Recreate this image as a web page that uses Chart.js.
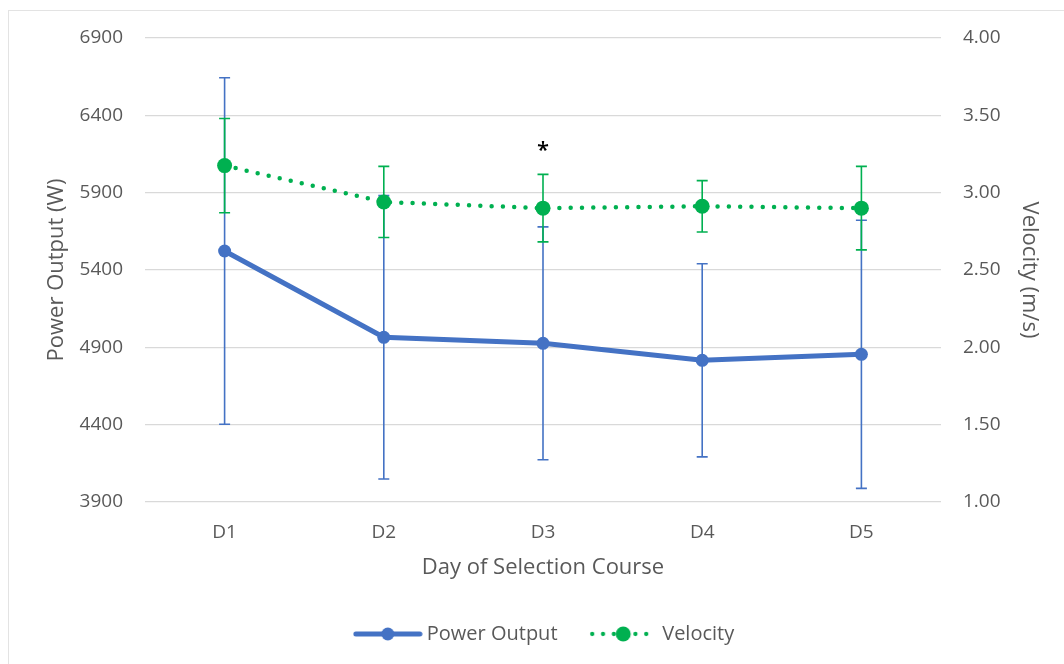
<!DOCTYPE html>
<html><head><meta charset="utf-8">
<script src="https://cdn.jsdelivr.net/npm/chart.js@4.4.0/dist/chart.umd.min.js"></script>
<style>html,body{margin:0;padding:0;background:#fff;} canvas{display:block;}</style>
</head><body>
<canvas id="c" width="1064" height="664" style="width:1064px;height:664px"></canvas>
<script>
// ---- data ----
const days = ['D1', 'D2', 'D3', 'D4', 'D5'];
const powerMean = [5523, 4965, 4926, 4816, 4855];
const powerSD = [1120, 916, 753, 624, 867];
const velocityMean = [3.175, 2.94, 2.90, 2.912, 2.90];
const velocitySD = [0.305, 0.23, 0.218, 0.166, 0.27];
const powerTicks = [3900, 4400, 4900, 5400, 5900, 6400, 6900];
const velocityTicks = [1.00, 1.50, 2.00, 2.50, 3.00, 3.50, 4.00];
const sigDays = ['D3'];
const sigValues = [3.30];
const sigText = ['*'];

const BLUE = '#4472C4';
const GREEN = '#00B050';
const TXT = '#595959';
const FONT = "'Open Sans', sans-serif";

Chart.defaults.font.family = FONT;
Chart.defaults.color = TXT;

function powerSwatch() {
  const c = document.createElement('canvas');
  c.width = 70; c.height = 18;
  const x = c.getContext('2d');
  x.strokeStyle = BLUE; x.lineWidth = 5; x.lineCap = 'round';
  x.beginPath(); x.moveTo(3, 9); x.lineTo(67, 9); x.stroke();
  x.fillStyle = BLUE; x.beginPath(); x.arc(35, 9, 6.5, 0, Math.PI * 2); x.fill();
  return c;
}
function velocitySwatch() {
  const c = document.createElement('canvas');
  c.width = 70; c.height = 18;
  const x = c.getContext('2d');
  x.strokeStyle = GREEN; x.lineWidth = 4.3; x.lineCap = 'round';
  x.setLineDash([0, 10.8]);
  x.beginPath(); x.moveTo(4, 9); x.lineTo(64, 9); x.stroke();
  x.fillStyle = GREEN; x.beginPath(); x.arc(35, 9, 7.5, 0, Math.PI * 2); x.fill();
  return c;
}

const frame = {
  id: 'frame',
  beforeDraw(chart) {
    const ctx = chart.ctx;
    ctx.save();
    ctx.fillStyle = '#fff';
    ctx.fillRect(0, 0, chart.width, chart.height);
    ctx.strokeStyle = '#e3e3e3';
    ctx.lineWidth = 1;
    ctx.strokeRect(8.5, 10.5, 3000, 3000);
    ctx.restore();
  }
};

const errorBars = {
  id: 'errorBars',
  beforeDatasetsDraw(chart) {
    const ctx = chart.ctx;
    const xs = chart.scales.x;
    const sets = [
      {mean: powerMean, sd: powerSD, scale: chart.scales.yP, color: BLUE},
      {mean: velocityMean, sd: velocitySD, scale: chart.scales.yV, color: GREEN}
    ];
    ctx.save();
    ctx.lineWidth = 1.6;
    sets.forEach(s => {
      ctx.strokeStyle = s.color;
      s.mean.forEach((m, i) => {
        const px = xs.getPixelForValue(i);
        const top = s.scale.getPixelForValue(m + s.sd[i]);
        const bot = s.scale.getPixelForValue(m - s.sd[i]);
        ctx.beginPath();
        ctx.moveTo(px, top); ctx.lineTo(px, bot);
        ctx.moveTo(px - 5.5, top); ctx.lineTo(px + 5.5, top);
        ctx.moveTo(px - 5.5, bot); ctx.lineTo(px + 5.5, bot);
        ctx.stroke();
      });
    });
    ctx.restore();
  },
  afterDatasetsDraw(chart) {
    const ctx = chart.ctx;
    const xs = chart.scales.x, yV = chart.scales.yV;
    ctx.save();
    ctx.fillStyle = '#000';
    ctx.font = "600 22px " + FONT;
    ctx.textAlign = 'center';
    ctx.textBaseline = 'alphabetic';
    sigDays.forEach((d, i) => {
      const px = xs.getPixelForValue(days.indexOf(d));
      const target = yV.getPixelForValue(sigValues[i]);
      const m = ctx.measureText(sigText[i]);
      const y = target + (m.actualBoundingBoxAscent - m.actualBoundingBoxDescent) / 2;
      ctx.fillText(sigText[i], px, y);
    });
    ctx.restore();
  }
};

new Chart(document.getElementById('c'), {
  type: 'line',
  data: {
    labels: days,
    datasets: [
      {
        label: 'Power Output', data: powerMean, yAxisID: 'yP', order: 2,
        borderColor: BLUE, backgroundColor: BLUE, borderWidth: 5,
        pointRadius: 6.5, pointBackgroundColor: BLUE, pointBorderWidth: 0,
        tension: 0, fill: false
      },
      {
        label: 'Velocity', data: velocityMean, yAxisID: 'yV', order: 1,
        borderColor: GREEN, backgroundColor: GREEN, borderWidth: 4.5,
        borderDash: [0, 11.3], borderCapStyle: 'round',
        pointRadius: 7.5, pointBackgroundColor: GREEN, pointBorderWidth: 0,
        tension: 0, fill: false
      }
    ]
  },
  options: {
    responsive: false,
    animation: false,
    devicePixelRatio: 1,
    layout: {padding: {left: 30, right: 1, top: 38, bottom: 10}},
    plugins: {
      tooltip: {enabled: false},
      legend: {
        position: 'bottom',
        labels: {
          usePointStyle: true,
          pointStyleWidth: 58,
          padding: 36.7,
          color: TXT,
          font: {size: 20, family: FONT},
          generateLabels() {
            return [
              {text: 'Power Output', pointStyle: powerSwatch(), fillStyle: BLUE, strokeStyle: BLUE, lineWidth: 0, hidden: false, datasetIndex: 0, fontColor: TXT},
              {text: 'Velocity', pointStyle: velocitySwatch(), fillStyle: GREEN, strokeStyle: GREEN, lineWidth: 0, hidden: false, datasetIndex: 1, fontColor: TXT}
            ];
          }
        }
      }
    },
    scales: {
      x: {
        type: 'category', offset: true,
        grid: {display: false, drawTicks: false},
        border: {display: false},
        ticks: {padding: 19, font: {size: 19}, color: TXT},
        title: {display: true, text: 'Day of Selection Course', color: TXT, font: {size: 22}, padding: {top: 0, bottom: 6}},
        afterFit(s) { s.height = 85.3; }
      },
      yP: {
        position: 'left', min: 3900, max: 6900,
        afterBuildTicks(s) { s.ticks = powerTicks.map(v => ({value: v})); },
        grid: {color: '#d9d9d9', lineWidth: 1.3, drawTicks: false},
        border: {display: false},
        ticks: {padding: 22, font: {size: 19}, color: TXT, callback: v => String(v)},
        title: {display: true, text: 'Power Output (W)', color: TXT, font: {size: 22}, padding: {top: 13.8, bottom: 0}},
        afterFit(s) { s.width = 115; }
      },
      yV: {
        position: 'right', min: 1, max: 4,
        afterBuildTicks(s) { s.ticks = velocityTicks.map(v => ({value: v})); },
        grid: {display: false, drawTicks: false},
        border: {display: false},
        ticks: {padding: 22, font: {size: 19}, color: TXT, callback: v => Number(v).toFixed(2)},
        title: {display: true, text: 'Velocity (m/s)', color: TXT, font: {size: 22}, padding: {top: 20.8, bottom: 0}},
        afterFit(s) { s.width = 122; }
      }
    }
  },
  plugins: [frame, errorBars]
});
</script>
</body></html>
